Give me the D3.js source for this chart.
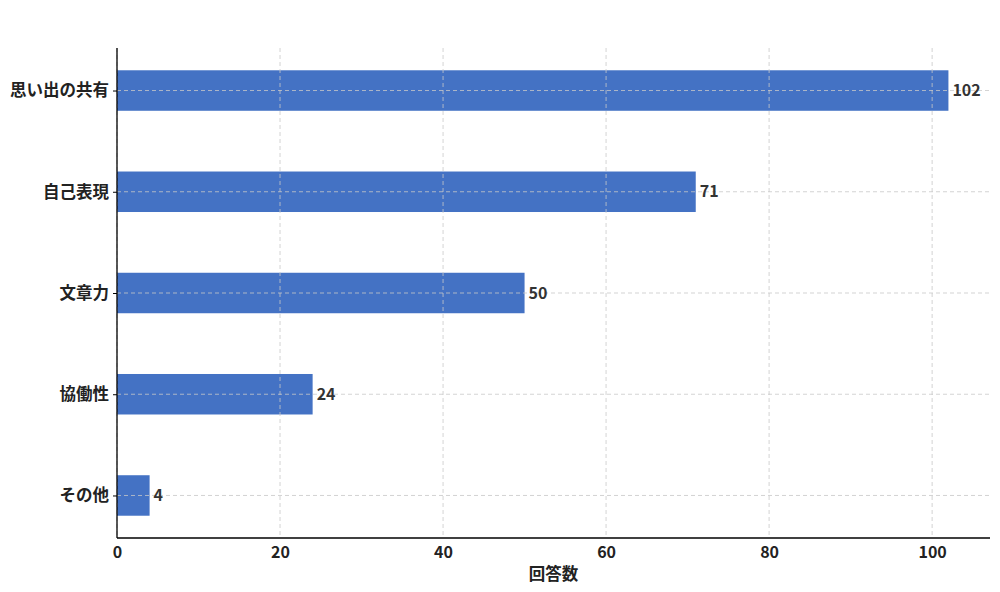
<!DOCTYPE html>
<html><head><meta charset="utf-8">
<script src="https://cdn.jsdelivr.net/npm/d3@7"></script>
<style>body{margin:0;background:#fff;}svg{display:block;font-family:"Noto Sans CJK JP","Noto Sans",sans-serif;}</style>
</head><body><svg id="c" width="1000" height="592"></svg>
<script>
const categories = ["思い出の共有","自己表現","文章力","協働性","その他"];
const values = [102, 71, 50, 24, 4];
const xTicks = [0, 20, 40, 60, 80, 100];
const xLabel = "回答数";

(function(){
const svg = d3.select("#c");
const pL = 117, pR = 990, pT = 48, pB = 538;
const x = d3.scaleLinear().domain([0, 107.1]).range([pL, pR]);
const y = d3.scaleLinear().domain([-0.42, 4.42]).range([pT, pB]);
const barH = y(0.4) - y(0);
const ff = '"Noto Sans CJK JP","Noto Sans",sans-serif';

const g = svg.append("g");
g.selectAll("rect.bar").data(values).join("rect")
  .attr("x", x(0)).attr("y", (d,i) => y(i) - barH/2)
  .attr("width", d => x(d) - x(0)).attr("height", barH)
  .attr("fill", "#4472C4");
g.selectAll("line.vg").data(xTicks).join("line")
  .attr("x1", d => x(d)).attr("x2", d => x(d)).attr("y1", pT).attr("y2", pB)
  .attr("stroke", "#c8c8c8").attr("stroke-width", 0.8).attr("stroke-dasharray", "4,3");
g.selectAll("line.hg").data(categories).join("line")
  .attr("x1", pL).attr("x2", pR).attr("y1", (d,i) => y(i)).attr("y2", (d,i) => y(i))
  .attr("stroke", "#c8c8c8").attr("stroke-width", 0.8).attr("stroke-dasharray", "4,3");
g.selectAll("text.val").data(values).join("text")
  .attr("x", d => x(d) + 4).attr("y", (d,i) => y(i)).attr("dy", "0.35em")
  .attr("font-size", 16).attr("font-weight", "bold").attr("fill", "#333")
  .text(d => d);
const xa = svg.append("g").attr("transform", `translate(0,${pB})`)
  .call(d3.axisBottom(x).tickValues(xTicks).tickSize(0).tickPadding(9));
xa.select(".domain").attr("d", `M${pL},0H${pR}`).attr("stroke", "#000").attr("stroke-width", 1.3);
xa.selectAll("text").attr("font-size", 16).attr("font-weight", "bold").attr("fill", "#222").style("font-family", ff);
const ya = svg.append("g").attr("transform", `translate(${pL},0)`)
  .call(d3.axisLeft(y).tickValues(d3.range(categories.length)).tickFormat(i => categories[i]).tickSize(4).tickPadding(4));
ya.select(".domain").attr("d", `M0,${pT}V${pB}`).attr("stroke", "#000").attr("stroke-width", 1.3);
ya.selectAll("text").attr("font-size", 16.5).attr("font-weight", "bold").attr("fill", "#222").style("font-family", ff);
svg.append("text").attr("x", (pL+pR)/2).attr("y", 580).attr("text-anchor", "middle")
  .attr("font-size", 16.5).attr("font-weight", "bold").attr("fill", "#222").text(xLabel);
})();
</script></body></html>
